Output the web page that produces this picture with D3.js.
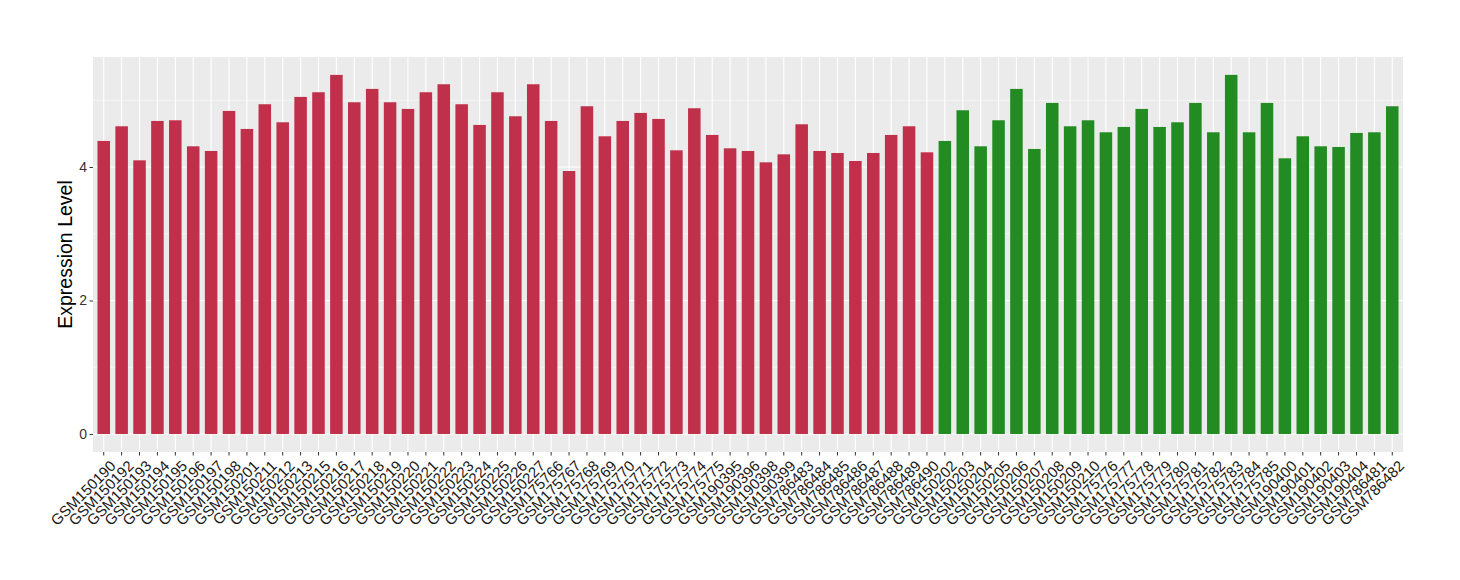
<!DOCTYPE html>
<html>
<head>
<meta charset="utf-8">
<script src="https://cdn.jsdelivr.net/npm/d3@7"></script>
<style>
  body { margin: 0; background: #fff; }
  text { font-family: "Liberation Sans", Arial, Helvetica, sans-serif; }
</style>
</head>
<body>
<div id="chart"></div>
<script>
var width = 1460;
var height = 580;

// samples, in plotting order
var samples = [
  "GSM150190","GSM150192","GSM150193","GSM150194","GSM150195","GSM150196","GSM150197","GSM150198",
  "GSM150201","GSM150211","GSM150212","GSM150213","GSM150215","GSM150216","GSM150217","GSM150218",
  "GSM150219","GSM150220","GSM150221","GSM150222","GSM150223","GSM150224","GSM150225","GSM150226",
  "GSM150227","GSM175766","GSM175767","GSM175768","GSM175769","GSM175770","GSM175771","GSM175772",
  "GSM175773","GSM175774","GSM175775","GSM190395","GSM190396","GSM190398","GSM190399","GSM786483",
  "GSM786484","GSM786485","GSM786486","GSM786487","GSM786488","GSM786489","GSM786490",
  "GSM150202","GSM150203","GSM150204","GSM150205","GSM150206","GSM150207","GSM150208","GSM150209",
  "GSM150210","GSM175776","GSM175777","GSM175778","GSM175779","GSM175780","GSM175781","GSM175782",
  "GSM175783","GSM175784","GSM175785","GSM190400","GSM190401","GSM190402","GSM190403","GSM190404",
  "GSM786481","GSM786482"
];

var values = [
  4.39,4.61,4.10,4.69,4.70,4.31,4.24,4.84,
  4.57,4.94,4.67,5.05,5.12,5.38,4.97,5.17,
  4.97,4.87,5.12,5.24,4.94,4.63,5.12,4.76,
  5.24,4.69,3.94,4.91,4.46,4.69,4.81,4.72,
  4.25,4.88,4.48,4.28,4.24,4.07,4.19,4.64,
  4.24,4.21,4.09,4.21,4.48,4.61,4.22,
  4.39,4.85,4.31,4.70,5.17,4.27,4.96,4.61,
  4.70,4.52,4.60,4.87,4.60,4.67,4.96,4.52,
  5.38,4.52,4.96,4.13,4.46,4.31,4.30,4.51,
  4.52,4.91
];

// group of each sample: first 47 red, last 26 green
var groups = [];
for (var k = 0; k < samples.length; k++) { groups.push(k < 47 ? "A" : "B"); }
var groupColors = {A: "#C1304A", B: "#228B22"};

var yTicks = [0, 2, 4];
var yMinor = [1, 3, 5];

var margin = {left: 93, right: 57, top: 57, bottom: 128};
var panelW = width - margin.left - margin.right;
var panelH = height - margin.top - margin.bottom;

var data = samples.map(function(s, i){ return {name: s, value: values[i], group: groups[i]}; });

var svg = d3.select("#chart").append("svg")
  .attr("width", width)
  .attr("height", height);

var x = d3.scaleBand()
  .domain(samples)
  .range([margin.left, margin.left + panelW])
  .paddingInner(0.3)
  .paddingOuter(0.25);

var y = d3.scaleLinear()
  .domain([-0.27, 5.648])
  .range([margin.top + panelH, margin.top]);

// panel background
svg.append("rect")
  .attr("x", margin.left).attr("y", margin.top)
  .attr("width", panelW).attr("height", panelH)
  .attr("fill", "#EBEBEB");

var grid = svg.append("g");
grid.selectAll("line.minor")
  .data(yMinor).enter().append("line")
  .attr("x1", margin.left).attr("x2", margin.left + panelW)
  .attr("y1", function(d){ return y(d); }).attr("y2", function(d){ return y(d); })
  .attr("stroke", "#fff").attr("stroke-width", 0.55);
grid.selectAll("line.major")
  .data(yTicks).enter().append("line")
  .attr("x1", margin.left).attr("x2", margin.left + panelW)
  .attr("y1", function(d){ return y(d); }).attr("y2", function(d){ return y(d); })
  .attr("stroke", "#fff").attr("stroke-width", 1.1);
grid.selectAll("line.vx")
  .data(samples).enter().append("line")
  .attr("x1", function(d){ return x(d) + x.bandwidth()/2; })
  .attr("x2", function(d){ return x(d) + x.bandwidth()/2; })
  .attr("y1", margin.top).attr("y2", margin.top + panelH)
  .attr("stroke", "#fff").attr("stroke-width", 1.1);

// bars
svg.append("g").selectAll("rect")
  .data(data).enter().append("rect")
  .attr("x", function(d){ return x(d.name); })
  .attr("width", x.bandwidth())
  .attr("y", function(d){ return y(d.value); })
  .attr("height", function(d){ return y(0) - y(d.value); })
  .attr("fill", function(d){ return groupColors[d.group]; });

// y axis
var yAxis = svg.append("g")
  .attr("transform", "translate(" + margin.left + ",0)")
  .call(d3.axisLeft(y).tickValues(yTicks).tickSize(3.5).tickPadding(2.5).tickFormat(d3.format("d")));
yAxis.select(".domain").remove();
yAxis.selectAll(".tick line").attr("stroke", "#333");
yAxis.selectAll(".tick text").attr("fill", "#333").attr("font-size", "14px");

// x axis
var xAxis = svg.append("g")
  .attr("transform", "translate(0," + (margin.top + panelH) + ")")
  .call(d3.axisBottom(x).tickSize(3.5).tickPadding(2));
xAxis.select(".domain").remove();
xAxis.selectAll(".tick line").attr("stroke", "#333");
xAxis.selectAll(".tick text")
  .attr("fill", "#1a1a1a")
  .attr("font-size", "15px")
  .attr("text-anchor", "end")
  .attr("dy", null)
  .attr("y", 0)
  .attr("transform", "translate(5,7) rotate(-45)")
  .attr("dominant-baseline", "hanging");

// y title
svg.append("text")
  .attr("transform", "translate(72," + (margin.top + panelH/2) + ") rotate(-90)")
  .attr("text-anchor", "middle")
  .attr("font-size", "19.5px")
  .attr("fill", "#000")
  .text("Expression Level");
</script>
</body>
</html>
